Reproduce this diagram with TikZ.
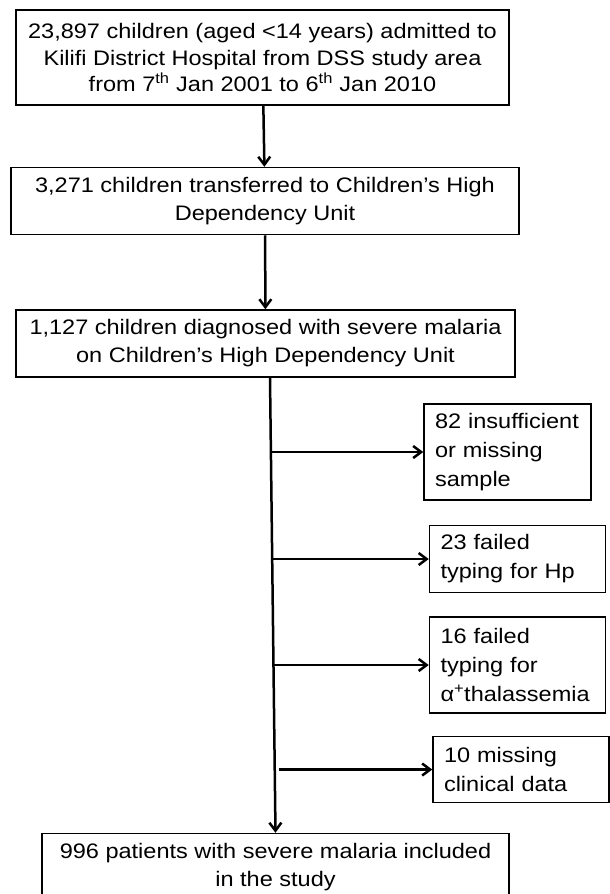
\documentclass[tikz,border=0pt]{standalone}
\usepackage{fontspec}
\setmainfont{Liberation Sans}[FakeStretch=1.12]
\usepackage{tikz}
\usetikzlibrary{positioning,arrows.meta}
\tikzset{%
  mnode/.style={%
    draw=black,
    line width=1.5pt,
    rectangle,
    align=center,
    inner sep=0pt,
    font=\fontsize{21}{28}\selectfont%
  },
  xnode/.style={%
    mnode,
    align=left,
    inner xsep=11pt,
    text width=154pt,
    minimum width=176pt,
    font=\fontsize{21}{29}\selectfont%
  },
  flow/.style={%
    line width=2.5pt,
    -{Straight Barb[length=8pt,width=12pt]}%
  }
}
\begin{document}
\begin{tikzpicture}[x=1pt,y=1pt]
      \useasboundingbox (0,0) rectangle (610,-894);
      \node[mnode, minimum width=493pt, minimum height=95pt,
            font=\fontsize{21}{26.5}\selectfont] (b1) at (262.5,-57.5)
        {23,897 children (aged <14 years) admitted to\\
         Kilifi District Hospital from DSS study area\\
         from 7\textsuperscript{th} Jan 2001 to 6\textsuperscript{th} Jan 2010};
      \node[mnode, minimum width=508pt, minimum height=67pt,
            below = 61pt of b1, xshift=2.5pt] (b2)
        {3,271 children transferred to Children’s High\\
         Dependency Unit};
      \node[mnode, minimum width=499pt, minimum height=67pt,
            below = 74pt of b2, xshift=0.5pt] (b3)
        {1,127 children diagnosed with severe malaria\\
         on Children’s High Dependency Unit};
      \node[mnode, minimum width=467pt, minimum height=67pt,
            below = 455pt of b3, xshift=10pt] (b4)
        {996 patients with severe malaria included\\
         in the study};

      % excluded children
      \node[xnode, text width=145pt, minimum width=167pt, minimum height=96pt]
        (e1) at (507.5,-452) {82 insufficient\\ or missing\\ sample};
      \node[xnode, minimum height=67pt, below = 24pt of e1, xshift=10pt] (e2)
        {23 failed\\ typing for Hp};
      \node[xnode, minimum height=96pt, below = 23pt of e2] (e3)
        {16 failed\\ typing for\\ α\textsuperscript{+}thalassemia};
      \node[xnode, minimum height=66pt, below = 22pt of e3, xshift=3.5pt] (e4)
        {10 missing\\ clinical data};

      \coordinate (top) at ([xshift=4.5pt]b3.south);
      \path (top) -- (b4.north)
        coordinate[pos=0.171] (j1)
        coordinate[pos=0.403] (j2)
        coordinate[pos=0.634] (j3)
        coordinate[pos=0.859] (j4);
      \path[flow]
        (b1) edge (b2)
        (b2) edge (b3)
        (top) edge (b4.north)
        (j1 |- e1.west) edge (e1.west)
        (j2 |- e2.west) edge (e2.west)
        (j3 |- e3.west) edge (e3.west)
        ([xshift=4pt]j4 |- e4.west) edge (e4.west);
    \end{tikzpicture}
\end{document}
